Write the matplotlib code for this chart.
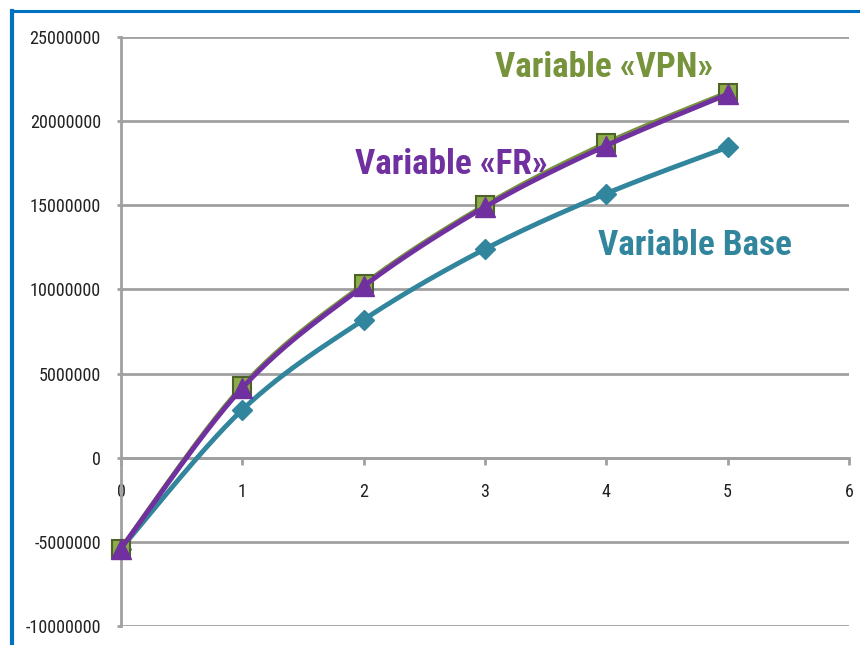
import numpy as np
import matplotlib
matplotlib.use("Agg")
import matplotlib.pyplot as plt
from matplotlib.lines import Line2D
from matplotlib import font_manager

years = [0, 1, 2, 3, 4, 5]
base = [-5400000, 2850000, 8200000, 12400000, 15700000, 18450000]
vpn = [-5400000, 4250000, 10300000, 15000000, 18700000, 21700000]
fr = [-5400000, 4150000, 10200000, 14900000, 18550000, 21600000]

y_ticks = list(range(-10000000, 25000001, 5000000))
x_ticks = [0, 1, 2, 3, 4, 5, 6]

# pick a narrow face when one is available
entries = font_manager.fontManager.ttflist
names = {f.name for f in entries}
label_font, label_stretch = "DejaVu Sans", "normal"
for cand in ("Liberation Sans Narrow", "Roboto Condensed", "Open Sans Condensed"):
    if cand in names:
        label_font = cand
        break
else:
    if any(f.name == "DejaVu Sans" and "Condensed" in f.fname for f in entries):
        label_stretch = "condensed"


def smooth(xs, ys, n=30):
    """Cubic Bezier through the points (Catmull-Rom style control points)."""
    xs = np.asarray(xs, float)
    ys = np.asarray(ys, float)
    px = np.concatenate([[xs[0]], xs, [xs[-1]]])
    py = np.concatenate([[ys[0]], ys, [ys[-1]]])
    out_x, out_y = [], []
    t = np.linspace(0, 1, n)
    for i in range(1, len(px) - 2):
        p0 = np.array([px[i], py[i]])
        p3 = np.array([px[i + 1], py[i + 1]])
        p1 = p0 + (np.array([px[i + 1], py[i + 1]]) - np.array([px[i - 1], py[i - 1]])) / 6
        p2 = p3 - (np.array([px[i + 2], py[i + 2]]) - np.array([px[i], py[i]])) / 6
        b = ((1 - t) ** 3)[:, None] * p0 + (3 * (1 - t) ** 2 * t)[:, None] * p1 \
            + (3 * (1 - t) * t ** 2)[:, None] * p2 + (t ** 3)[:, None] * p3
        out_x.extend(b[:, 0])
        out_y.extend(b[:, 1])
    return out_x, out_y


fig = plt.figure(figsize=(8.6, 6.45), dpi=100)
ax = fig.add_axes([0.1407, 0.0295, 0.8465, 0.9131])
renderer = fig.canvas.get_renderer()


def fit_size(text, width_px, weight="normal", start=20.0):
    """Font size at which the text spans the given width in pixels."""
    t = fig.text(0, 0, text, fontsize=start, family=label_font,
                 fontstretch=label_stretch, fontweight=weight)
    w = t.get_window_extent(renderer).width
    t.remove()
    return start * width_px / w


tick_size = fit_size("25000000", 72)
title_size = fit_size("Variable «VPN»", 218, weight="bold")

grid_c = "#A0A0A0"
ax.set_xlim(0, 6)
ax.set_ylim(-10000000, 25000000)
ax.set_yticks(y_ticks)
ax.set_yticklabels([str(v) for v in y_ticks])
ax.set_xticks(x_ticks)
ax.yaxis.grid(True, color=grid_c, linewidth=2)
ax.set_axisbelow(True)

for side in ("top", "right"):
    ax.spines[side].set_visible(False)
ax.spines["bottom"].set_position(("data", 0))
ax.spines["left"].set_position(("data", 0))
for side in ("bottom", "left"):
    ax.spines[side].set_color(grid_c)
    ax.spines[side].set_linewidth(2)

ax.tick_params(axis="y", length=3, width=2, color=grid_c, pad=11.5,
               labelsize=tick_size, labelcolor="#222222")
ax.tick_params(axis="x", length=5, width=2, color=grid_c, pad=13,
               labelsize=tick_size, labelcolor="#222222")
for lab in ax.get_xticklabels() + ax.get_yticklabels():
    lab.set_fontfamily(label_font)
    lab.set_fontstretch(label_stretch)

c_base = "#31859C"
c_vpn = "#77933C"
c_fr = "#7030A0"

sx, sy = smooth(years, base)
ax.plot(sx, sy, color=c_base, linewidth=3.5, solid_capstyle="round", zorder=3)
ax.plot(years, base, linestyle="none", marker="D", markersize=10,
        color=c_base, zorder=4, clip_on=False)

sx, sy = smooth(years, vpn)
ax.plot(sx, sy, color=c_vpn, linewidth=3.5, zorder=5)
ax.plot(years, vpn, linestyle="none", marker="s", markersize=13,
        markerfacecolor="#8CAD48", markeredgecolor="#4F6228",
        markeredgewidth=1.5, zorder=6, clip_on=False)

sx, sy = smooth(years, fr)
ax.plot(sx, sy, color=c_fr, linewidth=3.5, zorder=7)
ax.plot(years, fr, linestyle="none", marker="^", markersize=14,
        color=c_fr, zorder=8, clip_on=False)

label_kw = dict(fontsize=title_size, fontweight="bold", family=label_font,
                fontstretch=label_stretch, ha="center", va="center")
ax.text(3.98, 23200000, "Variable «VPN»", color=c_vpn, **label_kw)
ax.text(2.72, 17400000, "Variable «FR»", color=c_fr, zorder=6, **label_kw)
ax.text(4.73, 12600000, "Variable Base", color=c_base, **label_kw)

# blue frame edges
fig.add_artist(Line2D([0.014, 1.0], [0.983, 0.983], transform=fig.transFigure,
                      color="#0070C0", linewidth=2.2))
fig.add_artist(Line2D([0.014, 0.014], [0.0, 0.983], transform=fig.transFigure,
                      color="#0070C0", linewidth=3))

fig.savefig("out.png", dpi=100, facecolor="white")
